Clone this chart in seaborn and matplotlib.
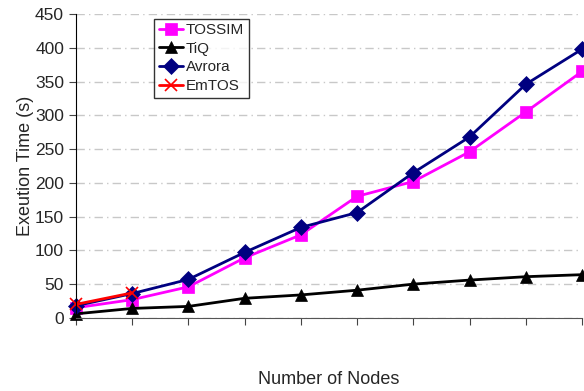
import matplotlib
matplotlib.use("Agg")
import matplotlib.pyplot as plt
import seaborn as sns
import pandas as pd

# data
node_steps = list(range(10))
tossim = [15, 27, 46, 89, 123, 180, 202, 246, 305, 365]
tiq = [6, 14, 17, 29, 34, 41, 50, 56, 61, 64]
avrora = [18, 36, 57, 97, 134, 156, 215, 268, 346, 398]
emtos = [20, 37]
y_ticks = [0, 50, 100, 150, 200, 250, 300, 350, 400, 450]

sns.set_style("white")
plt.rcParams['font.family'] = ['Liberation Sans', 'DejaVu Sans']

fig = plt.figure(figsize=(5.84, 3.91), dpi=100)
ax = fig.add_axes([0.130, 0.187, 0.8666, 0.777])

series = [
    ("TOSSIM", tossim, "#FF00FF", "s", 9),
    ("TiQ", tiq, "#000000", "^", 9),
    ("Avrora", avrora, "#000080", "D", 8),
    ("EmTOS", emtos, "#FF0000", "x", 9),
]
for name, vals, col, mk, ms in series:
    df = pd.DataFrame({"x": node_steps[:len(vals)], "y": vals})
    sns.lineplot(data=df, x="x", y="y", ax=ax, color=col, marker=mk,
                 markersize=ms, linewidth=2, label=name, clip_on=False,
                 markeredgecolor=col, markeredgewidth=1.2 if mk == "x" else 0.5)

ax.set_xlim(0, 9)
ax.set_ylim(0, 450)
ax.set_yticks(y_ticks)
ax.set_xticks(node_steps)
ax.set_xticklabels([""] * len(node_steps))
ax.tick_params(axis="both", labelsize=12.5, length=5, direction="out",
               color="#444444", bottom=True, left=True)
ax.yaxis.grid(True, color="#c8c8c8", linestyle=(0, (6, 3, 1, 3)), linewidth=1)
ax.set_axisbelow(True)
for s in ["top", "right"]:
    ax.spines[s].set_visible(False)
ax.spines["left"].set_color("#000000")
ax.spines["bottom"].set_color("#555555")
ax.set_xlabel("Number of Nodes", fontsize=13, labelpad=30)
ax.set_ylabel("Exeution Time (s)", fontsize=13, labelpad=1)

leg = ax.legend(loc="upper left", bbox_to_anchor=(0.155, 0.985), frameon=True,
                fancybox=False, edgecolor="black", fontsize=11,
                handlelength=1.6, handletextpad=0.15, borderpad=0.3,
                labelspacing=0.3, borderaxespad=0)
leg.get_frame().set_linewidth(1)

fig.savefig("out.png", dpi=100)
